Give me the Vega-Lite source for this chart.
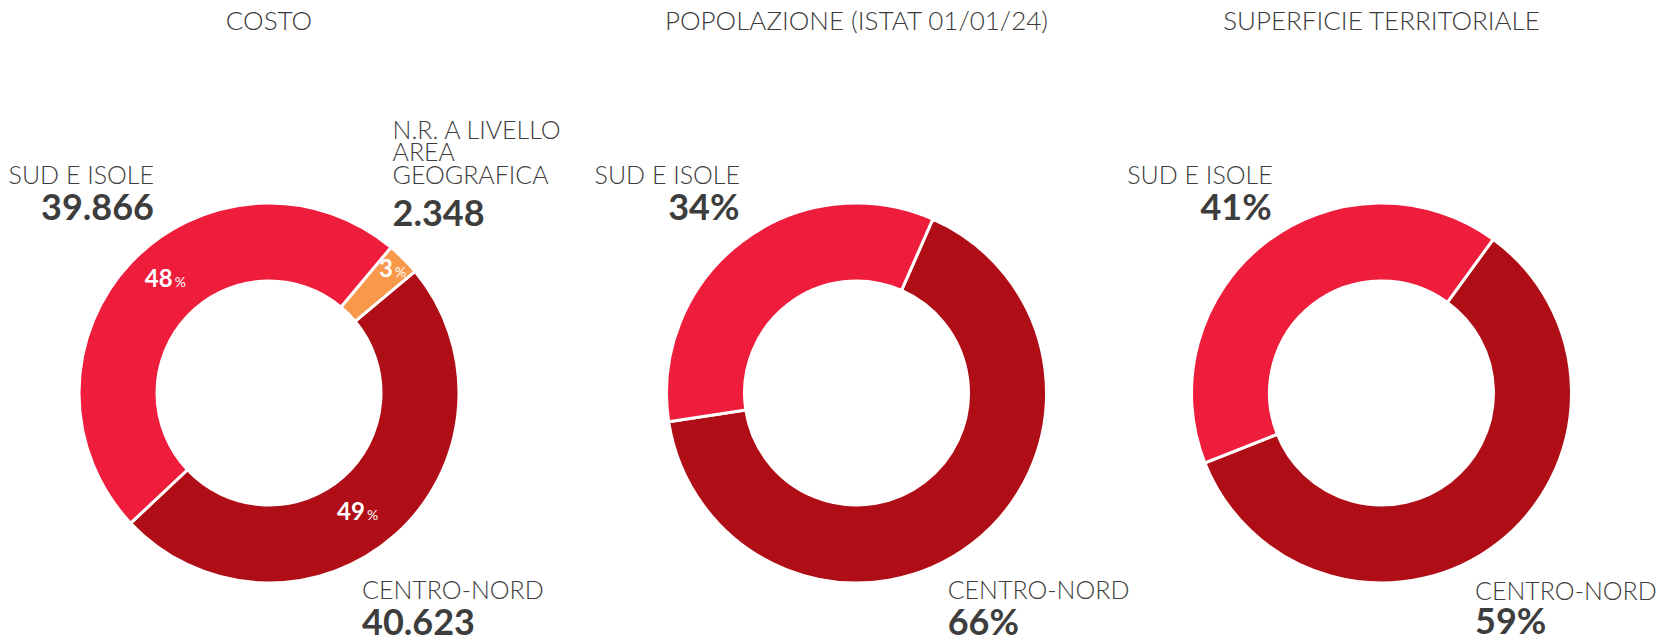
{
  "$schema": "https://vega.github.io/schema/vega-lite/v6.json",
  "background": "white",
  "padding": {"top": 9, "left": 0, "right": 0, "bottom": 0},
  "bounds": "flush",
  "spacing": 0,
  "config": {
    "view": {"stroke": null},
    "locale": {"number": {"decimal": ",", "thousands": ".", "grouping": [3], "currency": ["€", ""]}},
    "text": {"font": "Lato"}
  },
  "datasets": {
    "costo": [
      {"chart": "COSTO", "area": "CENTRO-NORD", "caption": "CENTRO-NORD", "value": 40623, "pct": 49, "ord": 1},
      {"chart": "COSTO", "area": "SUD E ISOLE", "caption": "SUD E ISOLE", "value": 39866, "pct": 48, "ord": 2},
      {"chart": "COSTO", "area": "N.R.", "caption": "N.R. A LIVELLO\nAREA\nGEOGRAFICA", "value": 2348, "pct": 3, "ord": 3}
    ],
    "popolazione": [
      {"chart": "POPOLAZIONE (ISTAT 01/01/24)", "area": "CENTRO-NORD", "caption": "CENTRO-NORD", "value": 0.66, "ord": 1},
      {"chart": "POPOLAZIONE (ISTAT 01/01/24)", "area": "SUD E ISOLE", "caption": "SUD E ISOLE", "value": 0.34, "ord": 2}
    ],
    "superficie": [
      {"chart": "SUPERFICIE TERRITORIALE", "area": "CENTRO-NORD", "caption": "CENTRO-NORD", "value": 0.59, "ord": 1},
      {"chart": "SUPERFICIE TERRITORIALE", "area": "SUD E ISOLE", "caption": "SUD E ISOLE", "value": 0.41, "ord": 2}
    ]
  },
  "hconcat": [
    {
      "width": 538,
      "height": 400,
      "data": {"name": "costo"},
      "resolve": {"scale": {"theta": "independent"}},
      "layer": [
        {
          "mark": {"type": "arc", "innerRadius": 112, "outerRadius": 190, "stroke": "white", "strokeWidth": 3},
          "encoding": {
            "theta": {"field": "value", "type": "quantitative", "stack": true, "scale": {"range": [0.8761, 7.1593]}},
            "order": {"field": "ord"},
            "color": {"field": "area", "type": "nominal", "scale": {"domain": ["CENTRO-NORD", "SUD E ISOLE", "N.R."], "range": ["#B00E16", "#EE1D3B", "#F7984A"]}, "legend": null}
          }
        },
        {
          "mark": {"type": "text", "align": "right", "baseline": "alphabetic", "dx": 5, "dy": 6, "fontSize": 24, "fontWeight": 700, "color": "white"},
          "encoding": {
            "theta": {"field": "value", "type": "quantitative", "stack": true, "scale": {"range": [0.9546, 7.2378]}},
            "order": {"field": "ord"},
            "radius": {"value": 151},
            "text": {"condition": {"test": "datum.ord < 3", "field": "pct"}, "value": ""}
          }
        },
        {
          "mark": {"type": "text", "align": "left", "baseline": "alphabetic", "dx": 7, "dy": 6, "fontSize": 14, "fontWeight": 400, "color": "white"},
          "encoding": {
            "theta": {"field": "value", "type": "quantitative", "stack": true, "scale": {"range": [0.9546, 7.2378]}},
            "order": {"field": "ord"},
            "radius": {"value": 151},
            "text": {"condition": {"test": "datum.ord < 3", "value": "%"}, "value": ""}
          }
        },
        {
          "mark": {"type": "text", "align": "right", "baseline": "alphabetic", "dx": 0, "dy": 8, "fontSize": 24, "fontWeight": 700, "color": "white"},
          "encoding": {
            "theta": {"field": "value", "type": "quantitative", "stack": true, "scale": {"range": [0.8761, 7.1593]}},
            "order": {"field": "ord"},
            "radius": {"value": 175},
            "text": {"condition": {"test": "datum.ord == 3", "field": "pct"}, "value": ""}
          }
        },
        {
          "mark": {"type": "text", "align": "left", "baseline": "alphabetic", "dx": 2, "dy": 8, "fontSize": 14, "fontWeight": 400, "color": "white"},
          "encoding": {
            "theta": {"field": "value", "type": "quantitative", "stack": true, "scale": {"range": [0.8761, 7.1593]}},
            "order": {"field": "ord"},
            "radius": {"value": 175},
            "text": {"condition": {"test": "datum.ord == 3", "value": "%"}, "value": ""}
          }
        },
        {
          "transform": [{"filter": "datum.ord == 1"}],
          "mark": {"type": "text", "align": "center", "baseline": "alphabetic", "dy": -362.7, "fontSize": 26, "fontWeight": 300, "color": "#3a3a3a"},
          "encoding": {"text": {"field": "chart"}}
        },
        {
          "transform": [{"filter": "datum.ord == 2"}],
          "mark": {"type": "text", "align": "right", "baseline": "alphabetic", "dx": -115, "dy": -209.4, "fontSize": 25, "fontWeight": 300, "color": "#3d3d3d"},
          "encoding": {"text": {"field": "caption"}}
        },
        {
          "transform": [{"filter": "datum.ord == 2"}],
          "mark": {"type": "text", "align": "right", "baseline": "alphabetic", "dx": -115, "dy": -173.4, "fontSize": 36, "fontWeight": 700, "color": "#3d3d3d"},
          "encoding": {"text": {"field": "value", "type": "quantitative", "format": ",d"}}
        },
        {
          "transform": [{"filter": "datum.ord == 1"}],
          "mark": {"type": "text", "align": "left", "baseline": "alphabetic", "dx": 93, "dy": 206, "fontSize": 25, "fontWeight": 300, "color": "#3d3d3d"},
          "encoding": {"text": {"field": "caption"}}
        },
        {
          "transform": [{"filter": "datum.ord == 1"}],
          "mark": {"type": "text", "align": "left", "baseline": "alphabetic", "dx": 93, "dy": 242, "fontSize": 36, "fontWeight": 700, "color": "#3d3d3d"},
          "encoding": {"text": {"field": "value", "type": "quantitative", "format": ",d"}}
        },
        {
          "transform": [{"filter": "datum.ord == 3"}],
          "mark": {"type": "text", "align": "left", "baseline": "alphabetic", "dx": 123.5, "dy": -254.4, "fontSize": 25, "fontWeight": 300, "lineHeight": 22.5, "lineBreak": "\n", "color": "#3d3d3d"},
          "encoding": {"text": {"field": "caption"}}
        },
        {
          "transform": [{"filter": "datum.ord == 3"}],
          "mark": {"type": "text", "align": "left", "baseline": "alphabetic", "dx": 123.5, "dy": -166.7, "fontSize": 36, "fontWeight": 700, "color": "#3d3d3d"},
          "encoding": {"text": {"field": "value", "type": "quantitative", "format": ",d"}}
        }
      ]
    },
    {
      "width": 637,
      "height": 400,
      "data": {"name": "popolazione"},
      "layer": [
        {
          "mark": {"type": "arc", "innerRadius": 112, "outerRadius": 190, "stroke": "white", "strokeWidth": 3},
          "encoding": {
            "theta": {"field": "value", "type": "quantitative", "stack": true, "scale": {"range": [0.4136, 6.6968]}},
            "order": {"field": "ord"},
            "color": {"field": "area", "type": "nominal", "scale": {"domain": ["CENTRO-NORD", "SUD E ISOLE"], "range": ["#B00E16", "#EE1D3B"]}, "legend": null}
          }
        },
        {
          "transform": [{"filter": "datum.ord == 1"}],
          "mark": {"type": "text", "align": "center", "baseline": "alphabetic", "dy": -362.7, "fontSize": 26, "fontWeight": 300, "color": "#3a3a3a"},
          "encoding": {"text": {"field": "chart"}}
        },
        {
          "transform": [{"filter": "datum.ord == 2"}],
          "mark": {"type": "text", "align": "right", "baseline": "alphabetic", "dx": -116.5, "dy": -209.4, "fontSize": 25, "fontWeight": 300, "color": "#3d3d3d"},
          "encoding": {"text": {"field": "caption"}}
        },
        {
          "transform": [{"filter": "datum.ord == 2"}],
          "mark": {"type": "text", "align": "right", "baseline": "alphabetic", "dx": -117, "dy": -172.7, "fontSize": 36, "fontWeight": 700, "color": "#3d3d3d"},
          "encoding": {"text": {"field": "value", "type": "quantitative", "format": ".0%"}}
        },
        {
          "transform": [{"filter": "datum.ord == 1"}],
          "mark": {"type": "text", "align": "left", "baseline": "alphabetic", "dx": 91.2, "dy": 205.5, "fontSize": 25, "fontWeight": 300, "color": "#3d3d3d"},
          "encoding": {"text": {"field": "caption"}}
        },
        {
          "transform": [{"filter": "datum.ord == 1"}],
          "mark": {"type": "text", "align": "left", "baseline": "alphabetic", "dx": 91.2, "dy": 241.5, "fontSize": 36, "fontWeight": 700, "color": "#3d3d3d"},
          "encoding": {"text": {"field": "value", "type": "quantitative", "format": ".0%"}}
        }
      ]
    },
    {
      "width": 413,
      "height": 400,
      "data": {"name": "superficie"},
      "layer": [
        {
          "mark": {"type": "arc", "innerRadius": 112, "outerRadius": 190, "stroke": "white", "strokeWidth": 3},
          "encoding": {
            "theta": {"field": "value", "type": "quantitative", "stack": true, "scale": {"range": [0.6283, 6.9115]}},
            "order": {"field": "ord"},
            "color": {"field": "area", "type": "nominal", "scale": {"domain": ["CENTRO-NORD", "SUD E ISOLE"], "range": ["#B00E16", "#EE1D3B"]}, "legend": null}
          }
        },
        {
          "transform": [{"filter": "datum.ord == 1"}],
          "mark": {"type": "text", "align": "center", "baseline": "alphabetic", "dy": -362.7, "fontSize": 26, "fontWeight": 300, "color": "#3a3a3a"},
          "encoding": {"text": {"field": "chart"}}
        },
        {
          "transform": [{"filter": "datum.ord == 2"}],
          "mark": {"type": "text", "align": "right", "baseline": "alphabetic", "dx": -108.8, "dy": -209.4, "fontSize": 25, "fontWeight": 300, "color": "#3d3d3d"},
          "encoding": {"text": {"field": "caption"}}
        },
        {
          "transform": [{"filter": "datum.ord == 2"}],
          "mark": {"type": "text", "align": "right", "baseline": "alphabetic", "dx": -109.8, "dy": -172.7, "fontSize": 36, "fontWeight": 700, "color": "#3d3d3d"},
          "encoding": {"text": {"field": "value", "type": "quantitative", "format": ".0%"}}
        },
        {
          "transform": [{"filter": "datum.ord == 1"}],
          "mark": {"type": "text", "align": "left", "baseline": "alphabetic", "dx": 93.5, "dy": 206.5, "fontSize": 25, "fontWeight": 300, "color": "#3d3d3d"},
          "encoding": {"text": {"field": "caption"}}
        },
        {
          "transform": [{"filter": "datum.ord == 1"}],
          "mark": {"type": "text", "align": "left", "baseline": "alphabetic", "dx": 93.5, "dy": 241, "fontSize": 36, "fontWeight": 700, "color": "#3d3d3d"},
          "encoding": {"text": {"field": "value", "type": "quantitative", "format": ".0%"}}
        }
      ]
    }
  ]
}
